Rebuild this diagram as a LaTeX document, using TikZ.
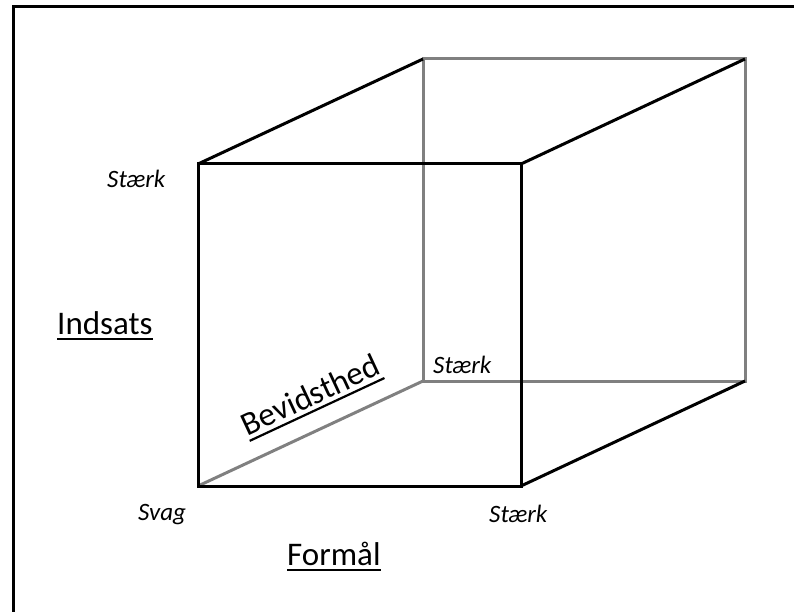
\documentclass[tikz,border=0pt]{standalone}
\usepackage{fontspec}
\setmainfont{Carlito}
\newcommand\myul[1]{\setbox0\hbox{#1}\rlap{\rule[-6pt]{\wd0}{2.2pt}}\box0}
\begin{document}
\begin{tikzpicture}[x=1pt,y=-1pt,
  frontedge/.style={line width=3pt,draw=black},
  backedge/.style={line width=3pt,draw=gray},
  endlab/.style={font=\fontsize{25}{29}\selectfont\itshape, inner sep=0pt, anchor=base west},
  axislab/.style={font=\fontsize{33}{38}\selectfont, inner sep=0pt, anchor=base west}]
\useasboundingbox (0,0) rectangle (794,612);
% frame
\coordinate (f1) at (13,612);
\coordinate (f2) at (13,7);
\coordinate (f3) at (794,7);
\draw[line width=3pt] (f1) -- (f2) -- (f3);
% cube corners
\coordinate (A) at (198,164);
\coordinate (B) at (521,164);
\coordinate (C) at (521,486);
\coordinate (D) at (198,486);
\coordinate (E) at (423,59);
\coordinate (F) at (745,59);
\coordinate (G) at (745,381);
\coordinate (H) at (423,381);
% hidden / back edges
\draw[backedge] (E) -- (F) -- (G) -- (H) -- cycle;
\draw[backedge] (D) -- (H);
% front edges
\draw[frontedge] (A) -- (B) -- (C) -- (D) -- cycle;
\draw[frontedge] (A) -- (E);
\draw[frontedge] (B) -- (F);
\draw[frontedge] (C) -- (G);
% labels
\node[endlab] (s1) at (107,188) {Stærk};
\node[axislab] (ind) at (57,334) {\myul{Indsats}};
\node[axislab, anchor=base, rotate=25] (bev) at (315,405) {\myul{Bevidsthed}};
\node[endlab] (s2) at (433,373) {Stærk};
\node[endlab] (svag) at (138,520) {Svag};
\node[endlab] (s3) at (489,522) {Stærk};
\node[axislab] (form) at (287,565) {\myul{Formål}};
\end{tikzpicture}
\end{document}
